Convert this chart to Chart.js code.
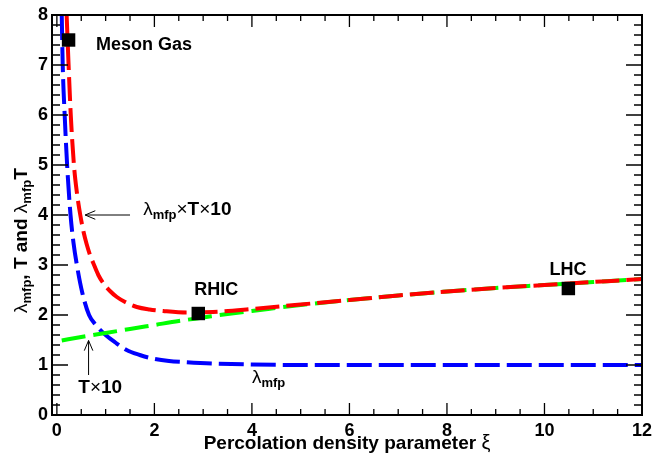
<!DOCTYPE html>
<html>
<head>
<meta charset="utf-8">
<script src="https://cdn.jsdelivr.net/npm/chart.js@4.4.0/dist/chart.umd.min.js"></script>
<style>body{margin:0;background:#fff}</style>
</head>
<body>
<canvas id="chart" width="666" height="453"></canvas>
<script>
const xTicks = [0, 2, 4, 6, 8, 10, 12];
const yTicks = [0, 1, 2, 3, 4, 5, 6, 7, 8];

// lambda_mfp (blue)
const lamXi = [0.10, 0.12, 0.16, 0.21, 0.28, 0.34, 0.41, 0.52, 0.66, 0.8, 1.0, 1.2, 1.43, 1.7, 1.91, 2.3, 2.6, 3.2, 4.0, 5, 6, 7, 8, 9, 10, 11, 12];
const lamVals = [8.0, 7.0, 6.0, 5.0, 4.0, 3.45, 3.0, 2.45, 2.0, 1.8, 1.6, 1.45, 1.3, 1.2, 1.14, 1.08, 1.06, 1.03, 1.01, 1.0, 1.0, 1.0, 1.0, 1.0, 1.0, 1.0, 1.0];

// lambda_mfp x T x 10 (red)
const prodXi = [0.20, 0.24, 0.285, 0.35, 0.41, 0.48, 0.55, 0.61, 0.68, 0.75, 0.85, 0.95, 1.1, 1.23, 1.4, 1.64, 1.9, 2.18, 2.66, 3.2, 4, 5, 6, 7, 8, 9, 10, 11, 12];
const prodVals = [8.0, 7.0, 6.0, 5.0, 4.45, 4.0, 3.65, 3.42, 3.2, 3.03, 2.8, 2.64, 2.47, 2.36, 2.26, 2.16, 2.11, 2.08, 2.05, 2.06, 2.12, 2.21, 2.30, 2.39, 2.47, 2.54, 2.60, 2.66, 2.72];

// T x 10 (green)
const tXi = [0.1, 0.5, 1, 1.5, 2, 2.5, 3, 3.5, 4, 5, 6, 7, 8, 9, 10, 11, 12];
const tVals = [1.49, 1.56, 1.64, 1.72, 1.80, 1.88, 1.95, 2.02, 2.08, 2.20, 2.30, 2.39, 2.47, 2.54, 2.60, 2.66, 2.72];

// Meson Gas, RHIC, LHC
const markerXi = [0.24, 2.9, 10.49];
const markerVals = [7.5, 2.03, 2.53];

function pts(xs, ys) {
  return xs.map((x, i) => ({ x: x, y: ys[i] }));
}

const FONT = '"Liberation Sans", Arial, sans-serif';

// draw a list of text runs (sub-scripts, thin greek letters...)
function runsWidth(ctx, runs) {
  let w = 0;
  runs.forEach(r => {
    ctx.font = (r.bold ? 'bold ' : '') + r.size + 'px ' + FONT;
    w += ctx.measureText(r.t).width;
  });
  return w;
}

function drawRuns(ctx, runs, x, y, align) {
  let cx = x;
  if (align === 'center') cx = x - runsWidth(ctx, runs) / 2;
  ctx.textBaseline = 'alphabetic';
  ctx.textAlign = 'left';
  ctx.fillStyle = '#000';
  runs.forEach(r => {
    ctx.font = (r.bold ? 'bold ' : '') + r.size + 'px ' + FONT;
    ctx.fillText(r.t, cx, y + (r.dy || 0));
    cx += ctx.measureText(r.t).width;
  });
}

function lam(size) {
  return [{ t: 'λ', size: size }, { t: 'mfp', bold: true, size: Math.round(size * 0.68), dy: 4 }];
}

function arrow(ctx, x1, y1, x2, y2) {
  const a = Math.atan2(y2 - y1, x2 - x1);
  ctx.beginPath();
  ctx.moveTo(x1, y1);
  ctx.lineTo(x2, y2);
  ctx.moveTo(x2 - 11 * Math.cos(a - 0.4), y2 - 11 * Math.sin(a - 0.4));
  ctx.lineTo(x2, y2);
  ctx.lineTo(x2 - 11 * Math.cos(a + 0.4), y2 - 11 * Math.sin(a + 0.4));
  ctx.stroke();
}

const framePlugin = {
  id: 'frame',
  afterDraw(chart) {
    const ctx = chart.ctx;
    const xs = chart.scales.x;
    const ys = chart.scales.y;
    const a = chart.chartArea;
    ctx.save();
    ctx.strokeStyle = '#000';

    // inward ticks on all four sides
    ctx.lineWidth = 1.3;
    ctx.beginPath();
    for (let i = 0; i <= 24; i++) {
      const px = xs.getPixelForValue(i * 0.5);
      const len = i % 4 === 0 ? 12 : 6;
      ctx.moveTo(px, a.bottom); ctx.lineTo(px, a.bottom - len);
      ctx.moveTo(px, a.top); ctx.lineTo(px, a.top + len);
    }
    for (let i = 0; i <= 40; i++) {
      const py = ys.getPixelForValue(i * 0.2);
      const len = i % 5 === 0 ? 16 : 8;
      ctx.moveTo(a.left, py); ctx.lineTo(a.left + len, py);
      ctx.moveTo(a.right, py); ctx.lineTo(a.right - len, py);
    }
    ctx.stroke();

    ctx.lineWidth = 2;
    ctx.strokeRect(a.left, a.top, a.right - a.left, a.bottom - a.top);

    // labels
    drawRuns(ctx, [{ t: 'Meson Gas', bold: true, size: 18 }], xs.getPixelForValue(0.8), ys.getPixelForValue(7.3), 'left');
    drawRuns(ctx, [{ t: 'RHIC', bold: true, size: 18 }], xs.getPixelForValue(3.27), ys.getPixelForValue(2.4), 'center');
    drawRuns(ctx, [{ t: 'LHC', bold: true, size: 18 }], xs.getPixelForValue(10.48), ys.getPixelForValue(2.8), 'center');

    drawRuns(ctx, lam(19).concat([
      { t: '×', size: 19 }, { t: 'T', bold: true, size: 19 },
      { t: '×', size: 19 }, { t: '10', bold: true, size: 19 }
    ]), xs.getPixelForValue(1.77), ys.getPixelForValue(4.0), 'left');
    drawRuns(ctx, [{ t: 'T', bold: true, size: 19 }, { t: '×', size: 19 }, { t: '10', bold: true, size: 19 }],
      xs.getPixelForValue(0.44), ys.getPixelForValue(0.44), 'left');
    drawRuns(ctx, lam(19), xs.getPixelForValue(4.0), ys.getPixelForValue(0.64), 'left');

    ctx.lineWidth = 1;
    arrow(ctx, xs.getPixelForValue(1.5), ys.getPixelForValue(4.0), xs.getPixelForValue(0.58), ys.getPixelForValue(4.0));
    arrow(ctx, xs.getPixelForValue(0.65), ys.getPixelForValue(0.8), xs.getPixelForValue(0.65), ys.getPixelForValue(1.49));

    // axis titles
    drawRuns(ctx, [{ t: 'Percolation density parameter ', bold: true, size: 19 }, { t: 'ξ', size: 20 }],
      (a.left + a.right) / 2, 449, 'center');

    ctx.translate(27, 313);
    ctx.rotate(-Math.PI / 2);
    drawRuns(ctx, lam(19).concat([{ t: ', T and ', bold: true, size: 19 }], lam(19), [{ t: 'T', bold: true, size: 19 }]), 0, 0, 'left');
    ctx.restore();
  }
};

new Chart(document.getElementById('chart'), {
  type: 'scatter',
  data: {
    datasets: [{
      label: 'markers',
      data: pts(markerXi, markerVals),
      pointStyle: 'rect',
      pointRadius: 9.5,
      backgroundColor: '#000',
      borderColor: '#000',
      borderWidth: 0,
      order: 0
    },
    {
      label: 'lambda x T x 10',
      data: pts(prodXi, prodVals),
      showLine: true,
      borderColor: 'rgb(255, 0, 0)',
      borderWidth: 4,
      borderDash: [24, 7],
      pointRadius: 0,
      cubicInterpolationMode: 'monotone',
      clip: 0,
      order: 1
    },
    {
      label: 'T x 10',
      data: pts(tXi, tVals),
      showLine: true,
      borderColor: 'rgb(0, 255, 0)',
      borderWidth: 4,
      borderDash: [24, 8],
      pointRadius: 0,
      cubicInterpolationMode: 'monotone',
      clip: 0,
      order: 2
    },
    {
      label: 'lambda',
      data: pts(lamXi, lamVals),
      showLine: true,
      borderColor: 'rgb(0, 0, 255)',
      borderWidth: 4,
      borderDash: [25, 7],
      pointRadius: 0,
      cubicInterpolationMode: 'monotone',
      clip: 0,
      order: 3
    }]
  },
  options: {
    responsive: false,
    animation: false,
    devicePixelRatio: 1,
    layout: { padding: { top: 15, right: 24, left: 0, bottom: 0 } },
    plugins: { legend: { display: false }, tooltip: { enabled: false } },
    scales: {
      x: {
        type: 'linear',
        min: -0.1,
        max: 12,
        afterBuildTicks: s => { s.ticks = xTicks.map(v => ({ value: v })); },
        afterFit: s => { s.height = 38; },
        grid: { display: false, drawTicks: false },
        border: { display: false },
        ticks: { color: '#000', padding: 5, maxRotation: 0, autoSkip: false, font: { family: FONT, size: 18, weight: 'bold' } }
      },
      y: {
        min: 0,
        max: 8,
        afterBuildTicks: s => { s.ticks = yTicks.map(v => ({ value: v })); },
        afterFit: s => { s.width = 52; },
        grid: { display: false, drawTicks: false },
        border: { display: false },
        ticks: { color: '#000', padding: 4, autoSkip: false, font: { family: FONT, size: 18, weight: 'bold' } }
      }
    }
  },
  plugins: [framePlugin]
});
</script>
</body>
</html>
